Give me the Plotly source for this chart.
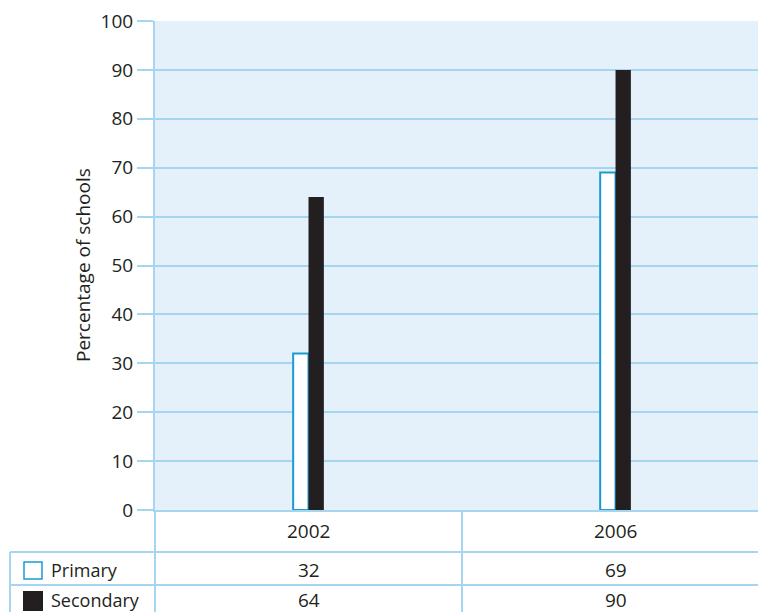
import plotly.graph_objects as go

years = ["2002", "2006"]
primary = [32, 69]
secondary = [64, 90]
series_names = ["Primary", "Secondary"]
y_ticks = [0, 10, 20, 30, 40, 50, 60, 70, 80, 90, 100]

GRID = "#a6d5f0"
BLUE = "#1a9ad6"
DARK = "#231f20"
BG = "#e5f1fa"
FONT = "Open Sans"

W, H = 758, 612
L, T, B = 155, 21, 102
PW, PH = W - L, H - T - B

def px_x(px):
    return (px - L) / PW

def px_y(py):
    return (H - B - py) / PH

fig = go.Figure()
fig.add_trace(go.Bar(x=[0, 1], y=primary, name=series_names[0],
                     marker=dict(color="white", line=dict(color=BLUE, width=2))))
fig.add_trace(go.Bar(x=[0, 1], y=secondary, name=series_names[1],
                     marker=dict(color=DARK, line=dict(color=DARK, width=0))))

fig.update_layout(
    width=W, height=H,
    margin=dict(l=L, r=0, t=T, b=B),
    paper_bgcolor="white", plot_bgcolor=BG,
    barmode="group", bargap=0.9, bargroupgap=0,
    showlegend=False,
    font=dict(family=FONT, color=DARK, size=18),
)
fig.update_xaxes(range=[-0.5, 1.464], showticklabels=False, showgrid=False,
                 zeroline=False, showline=True, linecolor=GRID, linewidth=2, ticks="")
fig.update_yaxes(range=[0, 100], tickvals=y_ticks, showgrid=True, gridcolor=GRID, gridwidth=1.5,
                 zeroline=False, showline=True, linecolor=GRID, linewidth=2,
                 ticks="outside", ticklen=16, tickcolor=GRID, tickwidth=1.5,
                 tickfont=dict(size=19, color=DARK, family=FONT))

# y-axis title
fig.add_annotation(text="Percentage of schools", xref="paper", yref="paper",
                   x=px_x(83), y=px_y(265), textangle=-90, showarrow=False,
                   font=dict(size=19, color=DARK), xanchor="center", yanchor="middle")

# table lines
line = dict(color=GRID, width=2)
fig.add_shape(type="line", xref="paper", yref="paper", x0=0, x1=0, y0=px_y(510), y1=px_y(H + 5), line=line)
fig.add_shape(type="line", xref="x", yref="paper", x0=0.5, x1=0.5, y0=px_y(510), y1=px_y(H + 5), line=line)
fig.add_shape(type="line", xref="paper", yref="paper", x0=px_x(10), x1=px_x(10), y0=px_y(552), y1=px_y(H + 5), line=line)
for yy in (552, 585):
    fig.add_shape(type="line", xref="paper", yref="paper", x0=px_x(10), x1=1, y0=px_y(yy), y1=px_y(yy), line=line)

# header (category labels)
for i, yr in enumerate(years):
    fig.add_annotation(text=yr, xref="x", yref="paper", x=i, y=px_y(531), showarrow=False,
                       font=dict(size=19, color=DARK), xanchor="center", yanchor="middle")

# row values
rows = [(primary, 570), (secondary, 600)]
for vals, yy in rows:
    for i, v in enumerate(vals):
        fig.add_annotation(text=str(v), xref="x", yref="paper", x=i, y=px_y(yy), showarrow=False,
                           font=dict(size=19, color=DARK), xanchor="center", yanchor="middle")

# legend keys in table
fig.add_shape(type="rect", xref="paper", yref="paper", x0=px_x(24), x1=px_x(42), y0=px_y(562), y1=px_y(579),
              line=dict(color=BLUE, width=1.5), fillcolor="white")
fig.add_shape(type="rect", xref="paper", yref="paper", x0=px_x(23), x1=px_x(43), y0=px_y(591), y1=px_y(611),
              line=dict(width=0), fillcolor=DARK)
for name, yy in zip(series_names, (570, 600)):
    fig.add_annotation(text=name, xref="paper", yref="paper", x=px_x(49), y=px_y(yy), showarrow=False,
                       font=dict(size=18, color=DARK), xanchor="left", yanchor="middle")

fig.write_html("out.html", config={"displayModeBar": False},
               post_script="document.body.style.margin='0';document.body.style.overflow='hidden';")
